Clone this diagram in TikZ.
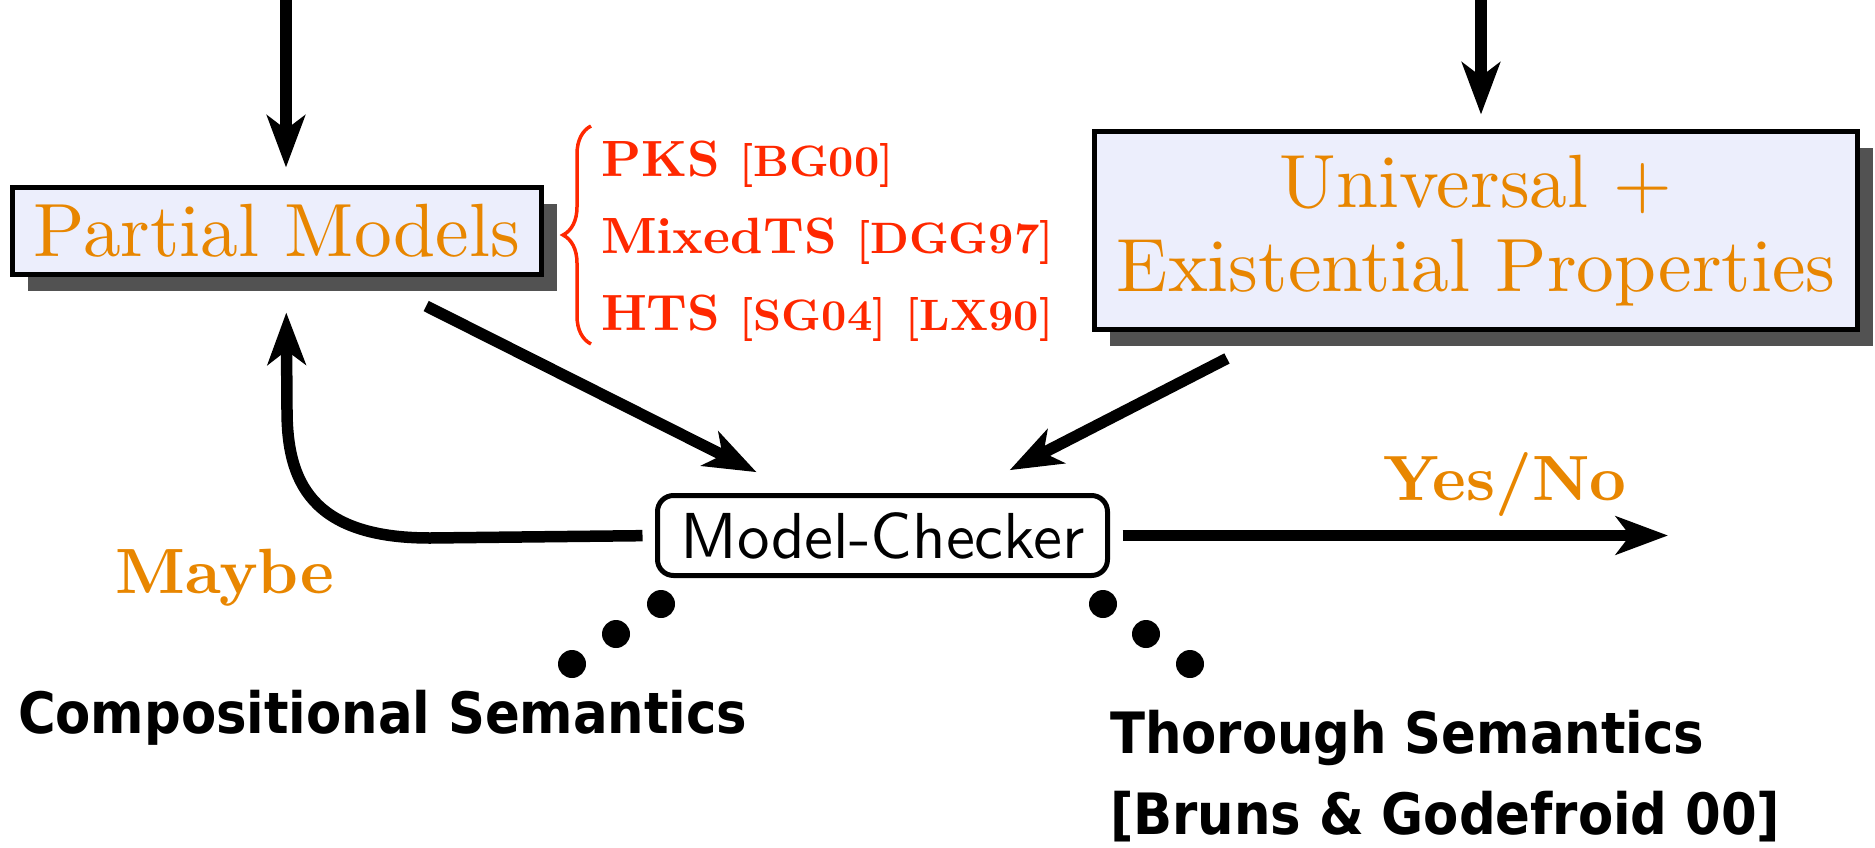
\documentclass[tikz,border=0pt]{standalone}
\usepackage{fontspec}
\setmainfont{lmroman10-regular.otf}[BoldFont=lmroman10-bold.otf]
\setsansfont{lmsans10-regular.otf}
\newfontfamily\handfont{DejaVuSansCondensed-Bold.ttf}
\usetikzlibrary{arrows.meta,shadows,decorations.pathreplacing}
\definecolor{labelorange}{RGB}{232,134,0}
\definecolor{citered}{RGB}{255,40,0}
\definecolor{boxfill}{RGB}{236,238,252}
\definecolor{shadowgray}{RGB}{82,82,82}
\tikzset{
  bigarrow/.style={line width=11.5pt, -{Stealth[length=52pt,width=38pt,inset=14pt]}},
  shadowbox/.style={draw=black, line width=5pt, fill=boxfill,
    drop shadow={shadow xshift=15pt, shadow yshift=-16pt, fill=shadowgray, opacity=1}},
  boxtext/.style={text=labelorange, font=\fontsize{75.5}{88}\selectfont, align=center},
  verdict/.style={text=labelorange, font=\fontsize{64}{76}\selectfont\bfseries},
  citeline/.style={text=citered, anchor=base west, font=\fontsize{51}{60}\selectfont\bfseries},
  semantics/.style={anchor=west, font=\handfont\fontsize{57}{66}\selectfont},
  dot/.style={fill=black, circle, minimum size=28pt, inner sep=0pt}
}
\newcommand\citesm[1]{{\fontsize{44}{52}\selectfont[#1]}}
\begin{document}
\begin{tikzpicture}[x=1pt,y=-1pt, every node/.style={inner sep=0pt, outer sep=0pt}]
\useasboundingbox (0,0) rectangle (1875,847);

% boxes
\node[shadowbox, boxtext, minimum width=529pt, minimum height=87pt] (pm) at (277,231) {Partial Models};
\node[shadowbox, boxtext, minimum width=763pt, minimum height=198pt] (um) at (1476,230.5)
  {Universal +\\[-4pt]Existential Properties};
\node[draw=black, line width=5pt, rounded corners=16pt, fill=white,
      minimum width=450pt, minimum height=80pt, font=\sffamily\fontsize{65}{76}\selectfont] (mc) at (882.5,535.5) {Model-Checker};

% incoming arrows from above
\coordinate (tl) at (286,0);
\coordinate (tr) at (1481,0);
\draw[bigarrow, shorten >=20pt] (tl) -- (pm.north -| tl);
\draw[bigarrow, shorten >=17pt] (tr) -- (um.north -| tr);

% arrows into the model checker
\draw[bigarrow, shorten <=167pt, shorten >=141pt] (pm.center) -- (mc.center);
\draw[bigarrow, shorten <=280pt, shorten >=143pt] (um.center) -- (mc.center);

% verdict output
\coordinate (yn) at (1668,538);
\draw[bigarrow, shorten <=15pt] (mc.east) -- (mc.east -| yn);
\node[verdict] (yes) at (1505,484) {Yes/No};

% refinement loop
\draw[bigarrow, shorten <=15pt, shorten >=38pt] (mc.west) -- (430,538)
  .. controls (310,538) and (287,480) .. (287,410) -- (pm.south -| tl);
\node[verdict] (maybe) at (225,578) {Maybe};

% partial model formalisms
\draw[citered, line width=3.5pt, decorate, decoration={brace, amplitude=28pt}]
  (591,344) -- (591,126);
\node[citeline] (pks) at (601,176) {PKS \citesm{BG00}};
\node[citeline] (mix) at (601,253) {MixedTS \citesm{DGG97}};
\node[citeline] (hts) at (601,330) {HTS \citesm{SG04} \citesm{LX90}};

% semantics
\node[dot] (l1) at (661,604) {};
\node[dot] (l2) at (616,634) {};
\node[dot] (l3) at (572,664) {};
\node[dot] (r1) at (1103,604) {};
\node[dot] (r2) at (1146,634) {};
\node[dot] (r3) at (1190,664) {};
\node[semantics] (comp) at (18,718) {Compositional Semantics};
\node[semantics] (thor) at (1110,738) {Thorough Semantics};
\node[semantics] (bg) at (1110,817) {[Bruns \& Godefroid 00]};
\end{tikzpicture}
\end{document}
